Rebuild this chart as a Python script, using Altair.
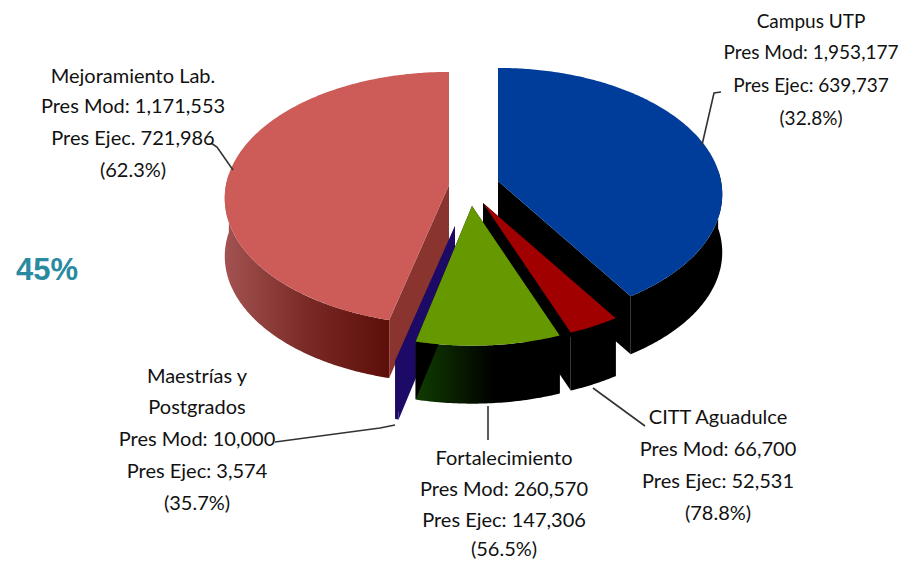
import math
import altair as alt
import pandas as pd

names = ["Campus UTP", "CITT Aguadulce", "Fortalecimiento", "Maestrías y Postgrados", "Mejoramiento Lab."]
pres_mod = [1953177, 66700, 260570, 10000, 1171553]
pres_ejec = [639737, 52531, 147306, 3574, 721986]
pct = ["32.8%", "78.8%", "56.5%", "35.7%", "62.3%"]

# ---- styles and layout of the pseudo-3D pie
top_colors = ["#003d9b", "#a00000", "#669900", "#1c0a66", "#cd5c58"]
cut_colors = ["#000000", "#000000", "#000000", "#1c0a66", "#8a3430"]
tips = [(498, 181), (483, 203), (472, 206), (455, 226), (449, 185)]
RX, RY, PERSP, DEPTH = 223, 125, 0.105, 58
FONT = "Lato"
TEXT_SIZE = 20
TEXT_SIZE_EDGE = 19


def wall_fill(stops):
    return alt.LinearGradient(
        gradient="linear", x1=0, x2=1, y1=0, y2=0,
        stops=[alt.GradientStop(offset=o, color=c) for o, c in stops],
    )


wall_fills = [
    "#000000",
    "#000000",
    wall_fill([(0, "#103c00"), (0.55, "#000000"), (1, "#000000")]),
    "#1c0a66",
    wall_fill([(0, "#a25250"), (0.5, "#7a2a26"), (1, "#5c0e08")]),
]

X = alt.X("x:Q", scale=alt.Scale(domain=[8, 899], nice=False, zero=False), axis=None)
Y = alt.Y("y:Q", scale=alt.Scale(domain=[560, 8], nice=False, zero=False), axis=None)


def project(i, deg, drop=0.0):
    t = math.radians(deg)
    w = 1 / (1 + PERSP * math.cos(t))
    return (tips[i][0] + RX * math.sin(t) * w, tips[i][1] - RY * math.cos(t) * w + drop)


def arc_points(i, a, b, drop=0.0):
    n = max(2, int(abs(b - a) * 1.5) + 1)
    return [project(i, a + (b - a) * k / (n - 1), drop) for k in range(n)]


def polygon(points, fill):
    rows = [{"x": p[0], "y": p[1], "k": k} for k, p in enumerate(points + points[:1])]
    return alt.Chart(pd.DataFrame(rows)).mark_line(
        fill=fill, stroke=None, strokeWidth=0, clip=False
    ).encode(x=X, y=Y, order="k:Q")


total = sum(pres_ejec)
bounds = [0.0]
for v in pres_ejec:
    bounds.append(bounds[-1] + 360 * v / total)

layers = []
for i in [0, 1, 4, 3, 2]:  # painter's order, back to front
    a, b = bounds[i], bounds[i + 1]
    tip = tips[i]
    tip_low = (tip[0], tip[1] + DEPTH)
    # outer wall
    wa, wb = max(a, 85), min(b, 275)
    if wb > wa:
        layers.append(polygon(arc_points(i, wa, wb) + arc_points(i, wb, wa, DEPTH), wall_fills[i]))
    # radial cut faces
    for edge in (a, b):
        out = project(i, edge)
        out_low = project(i, edge, DEPTH)
        layers.append(polygon([tip, out, out_low, tip_low], cut_colors[i]))
    # top face
    layers.append(polygon([tip] + arc_points(i, a, b), top_colors[i]))

# ---- leader lines
leaders = [
    [(702, 145), (714, 93), (721, 92)],
    [(233, 170), (217, 147), (211, 143)],
    [(593, 388), (645, 426)],
    [(488, 406), (488, 440)],
    [(395, 425), (380, 428), (275, 442)],
]
for pts in leaders:
    df = pd.DataFrame([{"x": p[0], "y": p[1], "k": k} for k, p in enumerate(pts)])
    layers.append(
        alt.Chart(df).mark_line(color="#333333", strokeWidth=1.6).encode(x=X, y=Y, order="k:Q")
    )

# ---- labels
block_text = [
    ["Campus UTP", f"Pres Mod: {pres_mod[0]:,}", f"Pres Ejec: {pres_ejec[0]:,}", f"({pct[0]})"],
    ["CITT Aguadulce", f"Pres Mod: {pres_mod[1]:,}", f"Pres Ejec: {pres_ejec[1]:,}", f"({pct[1]})"],
    ["Fortalecimiento", f"Pres Mod: {pres_mod[2]:,}", f"Pres Ejec: {pres_ejec[2]:,}", f"({pct[2]})"],
    ["Maestrías y", "Postgrados", f"Pres Mod: {pres_mod[3]:,}", f"Pres Ejec: {pres_ejec[3]:,}", f"({pct[3]})"],
    ["Mejoramiento Lab.", f"Pres Mod: {pres_mod[4]:,}", f"Pres Ejec. {pres_ejec[4]:,}", f"({pct[4]})"],
]
block_x = [811, 718, 504, 197, 133]
block_size = [TEXT_SIZE_EDGE, TEXT_SIZE, TEXT_SIZE, TEXT_SIZE, TEXT_SIZE]
block_y = [[22, 53, 86, 119], [418, 450, 482, 514], [459, 490, 521, 550],
           [377, 408, 440, 472, 504], [77, 107, 139, 171]]
for lines, cx, ys, size in zip(block_text, block_x, block_y, block_size):
    rows = [{"x": cx, "y": y, "t": t} for t, y in zip(lines, ys)]
    layers.append(
        alt.Chart(pd.DataFrame(rows)).mark_text(
            font=FONT, fontSize=size, color="#111111", align="center", baseline="middle"
        ).encode(x=X, y=Y, text="t:N")
    )
layers.append(
    alt.Chart(pd.DataFrame([{"x": 47, "y": 271, "t": "45%"}])).mark_text(
        font="Liberation Sans", fontSize=31, fontWeight="bold", color="#2a8a9f",
        align="center", baseline="middle"
    ).encode(x=X, y=Y, text="t:N")
)

chart = (
    alt.layer(*layers)
    .properties(width=891, height=552, padding=0, background="white",
                autosize=alt.AutoSizeParams(type="none"))
    .configure_view(stroke=None)
)
chart.save("out.html", embed_options={"renderer": "svg", "actions": False})
